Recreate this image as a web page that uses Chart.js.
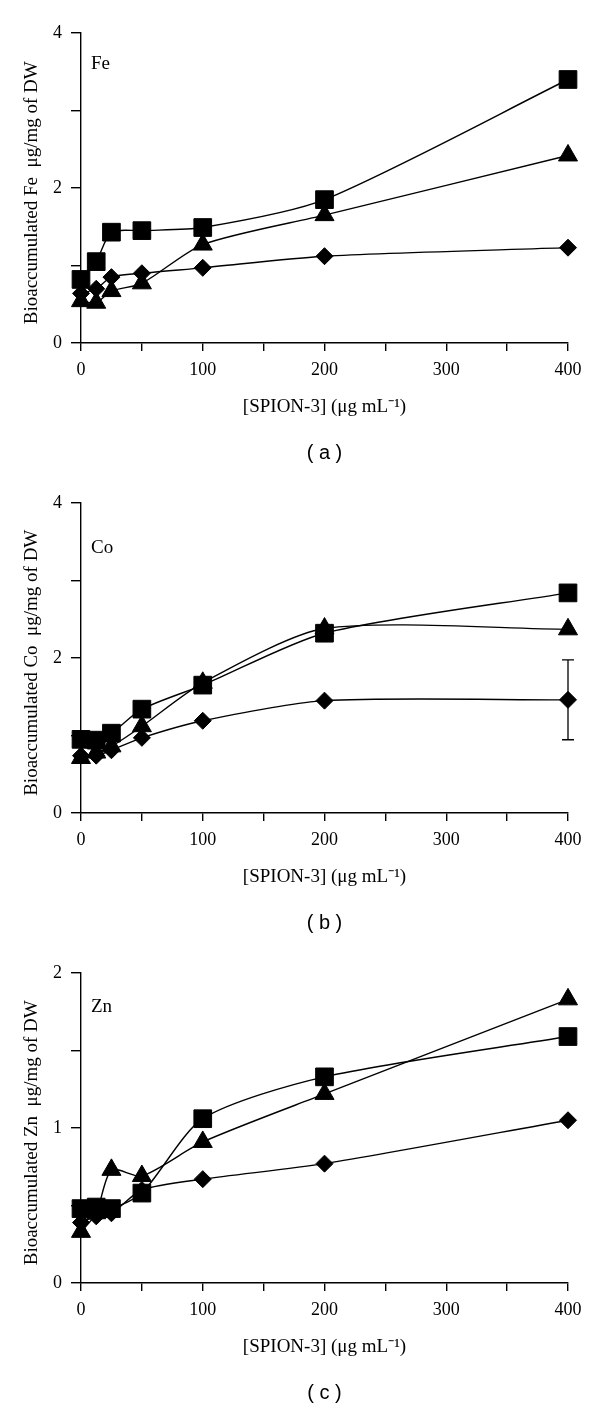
<!DOCTYPE html>
<html><head><meta charset="utf-8">
<script src="https://cdn.jsdelivr.net/npm/chart.js@4"></script>
<style>
html,body{margin:0;padding:0;background:#fff;}
canvas{display:block;}
</style></head><body>
<canvas id="ca" width="600" height="470"></canvas>
<canvas id="cb" width="600" height="470"></canvas>
<canvas id="cc" width="600" height="470"></canvas>
<script>
// ---- data ----
const concentrations = [0, 12.5, 25, 50, 100, 200, 400];

const feSquare   = [0.82, 1.05, 1.43, 1.45, 1.49, 1.85, 3.40];
const feTriangle = [0.54, 0.52, 0.67, 0.77, 1.27, 1.65, 2.42];
const feDiamond  = [0.64, 0.70, 0.85, 0.90, 0.97, 1.12, 1.23];

const coSquare   = [0.95, 0.94, 1.03, 1.34, 1.65, 2.32, 2.84];
const coTriangle = [0.71, 0.78, 0.86, 1.12, 1.68, 2.38, 2.37];
const coDiamond  = [0.74, 0.74, 0.81, 0.97, 1.19, 1.45, 1.46];
const coDiamondErr = [null, null, null, null, null, null, 0.515];

const znSquare   = [0.48, 0.49, 0.48, 0.58, 1.06, 1.33, 1.59];
const znTriangle = [0.33, 0.45, 0.73, 0.69, 0.91, 1.22, 1.83];
const znDiamond  = [0.39, 0.43, 0.45, 0.60, 0.67, 0.77, 1.05];

const xTickStep = 50, xLabelStep = 100;
const panelLabels = ['( a )', '( b )', '( c )'];
const elementNames = ['Fe', 'Co', 'Zn'];

// ---- rendering ----
const SERIF = '"Liberation Serif", "Times New Roman", serif';
const SANS = '"Liberation Sans", Arial, sans-serif';

const annotPlugin = {
  id: 'annot',
  beforeDatasetsDraw(chart, args, opts) {
    const ctx = chart.ctx;
    const xs = chart.scales.x, ys = chart.scales.y;
    (opts.errors || []).forEach(e => {
      e.err.forEach((sd, i) => {
        if (sd == null) return;
        const x = xs.getPixelForValue(concentrations[i]);
        const yHi = ys.getPixelForValue(e.values[i] + sd);
        const yLo = ys.getPixelForValue(e.values[i] - sd);
        ctx.save();
        ctx.strokeStyle = '#000';
        ctx.lineWidth = 1.3;
        ctx.beginPath();
        ctx.moveTo(x, yHi); ctx.lineTo(x, yLo);
        ctx.moveTo(x - 6, yHi); ctx.lineTo(x + 6, yHi);
        ctx.moveTo(x - 6, yLo); ctx.lineTo(x + 6, yLo);
        ctx.stroke();
        ctx.restore();
      });
    });
  },
  afterDraw(chart, args, opts) {
    const ctx = chart.ctx;
    ctx.save();
    ctx.font = '19px ' + SERIF;
    ctx.fillStyle = '#000';
    ctx.textBaseline = 'middle';
    ctx.textAlign = 'left';
    ctx.fillText(opts.label, chart.chartArea.left + opts.dx, opts.y);
    ctx.restore();
  }
};

function ds(values, style, radius) {
  return {
    data: concentrations.map((c, i) => ({x: c, y: values[i]})),
    borderColor: '#000', borderWidth: 1.4,
    pointStyle: style, pointRadius: radius, pointHoverRadius: radius,
    pointBackgroundColor: '#000', pointBorderColor: '#000', pointBorderWidth: 1,
    tension: 0.25, fill: false, clip: false
  };
}

function makeChart(id, idx, sq, tri, dia, yMax, yStep, yLabelStep, labelY, errors) {
  new Chart(document.getElementById(id), {
    type: 'line',
    data: { datasets: [ds(sq, 'rect', 12.5), ds(tri, 'triangle', 11), ds(dia, 'rectRot', 8.5)] },
    plugins: [annotPlugin],
    options: {
      responsive: false, animation: false, events: [],
      layout: { padding: { left: 0, right: 32, top: 33, bottom: 0 } },
      plugins: {
        legend: { display: false }, tooltip: { enabled: false },
        title: {
          display: true, position: 'bottom', fullSize: false, text: panelLabels[idx],
          color: '#000', font: { family: SANS, size: 20, weight: 'normal', lineHeight: 1.2 },
          padding: { top: 0, bottom: 5 }
        },
        annot: { label: elementNames[idx], dx: 10, y: labelY, errors: errors }
      },
      scales: {
        x: {
          type: 'linear', min: 0, max: 400,
          afterFit: s => { s.height = 98; },
          border: { display: true, color: '#000', width: 1.4 },
          grid: { drawOnChartArea: false, drawTicks: true, tickLength: 8, color: '#000', lineWidth: 1.4 },
          ticks: { stepSize: xTickStep, autoSkip: false, maxRotation: 0, color: '#000', padding: 8,
                   font: { family: SERIF, size: 18 },
                   callback: v => (v % xLabelStep === 0 ? String(v) : '') },
          title: { display: true, text: '[SPION-3] (\u03BCg mL\u207B\u00B9)', color: '#000',
                   font: { family: SERIF, size: 19, lineHeight: 1.2 }, padding: { top: 0, bottom: 22.6 } }
        },
        y: {
          type: 'linear', min: 0, max: yMax,
          afterFit: s => { s.width = 81; },
          border: { display: true, color: '#000', width: 1.4 },
          grid: { drawOnChartArea: false, drawTicks: true, tickLength: 10, color: '#000', lineWidth: 1.4 },
          ticks: { stepSize: yStep, autoSkip: false, color: '#000', padding: 9,
                   font: { family: SERIF, size: 18 },
                   callback: v => (Math.abs(v / yLabelStep - Math.round(v / yLabelStep)) < 1e-9 ? String(v) : '') },
          title: { display: true, text: 'Bioaccumulated ' + elementNames[idx] + '  \u03BCg/mg of DW  ', color: '#000',
                   font: { family: SERIF, size: 19, lineHeight: 1.2 }, padding: { top: 20.6, bottom: 0 } }
        }
      }
    }
  });
}

makeChart('ca', 0, feSquare, feTriangle, feDiamond, 4, 1, 2, 64, []);
makeChart('cb', 1, coSquare, coTriangle, coDiamond, 4, 1, 2, 78, [{ values: coDiamond, err: coDiamondErr }]);
makeChart('cc', 2, znSquare, znTriangle, znDiamond, 2, 0.5, 1, 67, []);
</script>
</body></html>
